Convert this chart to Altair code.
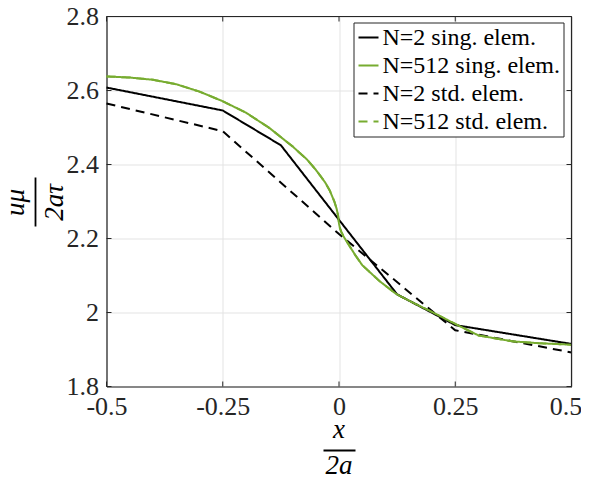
import altair as alt
import pandas as pd

# ---- data ----
series_names = ["N=2 sing. elem.", "N=512 sing. elem.", "N=2 std. elem.", "N=512 std. elem."]

n2_sing_x = [-0.5, -0.25, -0.125, 0.125, 0.25, 0.5]
n2_sing_y = [2.608, 2.546, 2.452, 2.049, 1.966, 1.915]

n2_std_x = [-0.5, -0.25, 0.0, 0.25, 0.5]
n2_std_y = [2.565, 2.490, 2.212, 1.952, 1.892]

n512_x = [-0.5, -0.45, -0.4, -0.35, -0.3, -0.25, -0.2, -0.15, -0.1, -0.07, -0.05, -0.03,
          -0.02, -0.01, -0.005, -0.002, 0.0, 0.002, 0.005, 0.01, 0.02, 0.035, 0.05, 0.087,
          0.123, 0.16, 0.21, 0.25, 0.3, 0.373, 0.43, 0.5]
n512_sing_y = [2.638, 2.635, 2.629, 2.617, 2.597, 2.571, 2.540, 2.499, 2.449, 2.415, 2.386,
               2.352, 2.330, 2.300, 2.280, 2.262, 2.240, 2.228, 2.218, 2.205, 2.185, 2.155,
               2.128, 2.085, 2.050, 2.026, 1.995, 1.969, 1.938, 1.922, 1.917, 1.913]
n512_std_y = list(n512_sing_y)

x_ticks = [-0.5, -0.25, 0, 0.25, 0.5]
y_ticks = [1.8, 2.0, 2.2, 2.4, 2.6, 2.8]

y_title_num, y_title_den = ["uμ"], ["2aτ"]
x_title_num, x_title_den = ["x"], ["2a"]

# ---- table ----
rows = []
for name, xs, ys in [
    (series_names[2], n2_std_x, n2_std_y),
    (series_names[3], n512_x, n512_std_y),
    (series_names[0], n2_sing_x, n2_sing_y),
    (series_names[1], n512_x, n512_sing_y),
]:
    for i, (a, b) in enumerate(zip(xs, ys)):
        rows.append({"series": name, "x": a, "y": b, "i": i})
df = pd.DataFrame(rows)

W, H = 465, 370
SERIF = "Liberation Serif"
DARK = "#262626"
GREEN = "#77AC30"
GRID = "#e3e3e3"

xscale = alt.Scale(domain=[-0.5, 0.5], nice=False, zero=False)
yscale = alt.Scale(domain=[1.8, 2.8], nice=False, zero=False)

legend = alt.Legend(
    title=None, orient="none", legendX=247, legendY=6,
    symbolType="stroke", symbolSize=400, symbolStrokeWidth=2,
    labelFont=SERIF, labelFontSize=24, labelColor="#000000", labelLimit=0,
    labelOffset=2, rowPadding=4, padding=3,
    strokeColor=DARK, fillColor="#ffffff", symbolOffset=0,
)

xlab = "datum.value < 0 ? '-' + format(-datum.value, '.2~f') : format(datum.value, '.2~f')"
ylab = "format(datum.value, '.1~f')"

lines = alt.Chart(df).mark_line(strokeWidth=2).encode(
    x=alt.X("x:Q", scale=xscale,
            axis=alt.Axis(values=x_ticks, title=None, ticks=False, labelPadding=7,
                          labelFlush=False, labelOverlap=False,
                          labelFont=SERIF, labelFontSize=26, labelColor=DARK,
                          domainColor=DARK, domainWidth=1.2, gridColor=GRID, gridWidth=1,
                          labelOffset={"condition": {"test": "datum.value >= 0.5", "value": -6},
                                       "value": 0},
                          labelExpr=xlab)),
    y=alt.Y("y:Q", scale=yscale,
            axis=alt.Axis(values=y_ticks, title=None, ticks=False, labelPadding=8,
                          labelOverlap=False,
                          labelFont=SERIF, labelFontSize=26, labelColor=DARK,
                          domainColor=DARK, domainWidth=1.2, gridColor=GRID, gridWidth=1,
                          labelExpr=ylab)),
    color=alt.Color("series:N", scale=alt.Scale(domain=series_names,
                    range=["#000000", GREEN, "#000000", GREEN]), legend=legend),
    strokeDash=alt.StrokeDash("series:N", scale=alt.Scale(domain=series_names,
                    range=[[1, 0], [1, 0], [9, 6], [9, 6]]), legend=legend),
    order="i:Q",
    detail="series:N",
)

xt = pd.DataFrame({"xt": x_ticks})
yt = pd.DataFrame({"yt": y_ticks})
tick_style = dict(color=DARK, strokeWidth=1)
ticks_bottom = alt.Chart(xt).mark_rule(**tick_style).encode(
    x=alt.X("xt:Q", scale=xscale), y=alt.value(H), y2=alt.value(H - 5))
ticks_top = alt.Chart(xt).mark_rule(**tick_style).encode(
    x=alt.X("xt:Q", scale=xscale), y=alt.value(0), y2=alt.value(5))
ticks_left = alt.Chart(yt).mark_rule(**tick_style).encode(
    y=alt.Y("yt:Q", scale=yscale), x=alt.value(0), x2=alt.value(5))
ticks_right = alt.Chart(yt).mark_rule(**tick_style).encode(
    y=alt.Y("yt:Q", scale=yscale), x=alt.value(W), x2=alt.value(W - 5))

# top and right frame edges
frame_top = alt.Chart(pd.DataFrame({"t": x_title_num})).mark_rule(color=DARK, strokeWidth=1.2).encode(
    x=alt.value(0), x2=alt.value(W), y=alt.value(0))
frame_right = alt.Chart(pd.DataFrame({"t": x_title_num})).mark_rule(color=DARK, strokeWidth=1.2).encode(
    x=alt.value(W), y=alt.value(0), y2=alt.value(H))

math_style = dict(font=SERIF, fontStyle="italic", fontSize=27, color="#000000",
                  align="center", baseline="middle")

ynum = alt.Chart(pd.DataFrame({"t": y_title_num})).mark_text(angle=270, **math_style).encode(
    text="t:N", x=alt.value(-91), y=alt.value(H / 2 + 1))
yden = alt.Chart(pd.DataFrame({"t": y_title_den})).mark_text(angle=270, **math_style).encode(
    text="t:N", x=alt.value(-52), y=alt.value(H / 2 + 1))
ybar = alt.Chart(pd.DataFrame({"t": y_title_num})).mark_rule(color="#000000", strokeWidth=1.8).encode(
    x=alt.value(-71), y=alt.value(161), y2=alt.value(210))

xnum = alt.Chart(pd.DataFrame({"t": x_title_num})).mark_text(**math_style).encode(
    text="t:N", x=alt.value(W / 2), y=alt.value(413))
xden = alt.Chart(pd.DataFrame({"t": x_title_den})).mark_text(**math_style).encode(
    text="t:N", x=alt.value(W / 2), y=alt.value(449))
xbar = alt.Chart(pd.DataFrame({"t": x_title_num})).mark_rule(color="#000000", strokeWidth=1.8).encode(
    x=alt.value(217), x2=alt.value(249), y=alt.value(434))

# invisible frame that fixes the layout bounds
bounds = alt.Chart(pd.DataFrame({"t": x_title_num})).mark_rule(opacity=0, strokeWidth=1).encode(
    x=alt.value(-106), x2=alt.value(W + 13), y=alt.value(-14), y2=alt.value(H + 100))

chart = alt.layer(
    lines, ticks_bottom, ticks_top, ticks_left, ticks_right, frame_top, frame_right,
    ynum, yden, ybar, xnum, xden, xbar, bounds,
).properties(
    width=W, height=H,
    padding={"left": -7.5, "top": -5.5, "right": -3.5, "bottom": -11.5},
)

chart.save("out.html", embed_options={"renderer": "svg", "actions": False})
